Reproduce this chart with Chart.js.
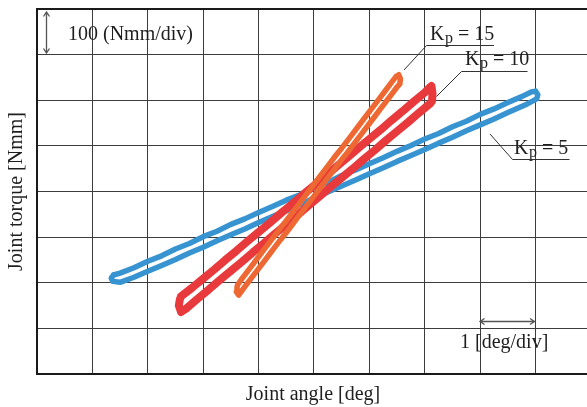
<!DOCTYPE html>
<html>
<head>
<meta charset="utf-8">
<script src="https://cdn.jsdelivr.net/npm/chart.js@4/dist/chart.umd.min.js"></script>
<style>
html,body{margin:0;padding:0;background:#fff;overflow:hidden}
canvas{display:block}
</style>
</head>
<body>
<canvas id="c" width="587" height="407"></canvas>
<script>
// ---- data (joint angle [deg] relative to centre, joint torque [Nmm]) ----
const gains = ['5', '10', '15'];

// Kp = 5 (blue) hysteresis loop
const blueX = [-3.62,-3.5,-3.25,-3.0,-2.75,-2.5,-2.25,-2.0,-1.75,-1.5,-1.25,-1.0,-0.75,-0.5,-0.25,0,0.25,0.5,0.75,1.0,1.25,1.5,1.75,2.0,2.25,2.5,2.75,3.0,3.25,3.5,3.75,3.92,4.0,4.04,4.02,
  3.85,3.5,3.25,3.0,2.75,2.5,2.25,2.0,1.75,1.5,1.25,1.0,0.75,0.5,0.25,0,-0.25,-0.5,-0.75,-1.0,-1.25,-1.5,-1.75,-2.0,-2.25,-2.5,-2.75,-3.0,-3.25,-3.5,-3.63,-3.66,-3.62];
const blueY = [-183,-179,-167,-153,-141,-126,-114,-99,-87,-72,-60,-46,-33,-19,-7,8,20,35,47,61,74,88,101,115,127,142,154,169,181,195,208,218,220,212,203,
  192,173,159,146,133,119,106,92,79,66,52,39,25,12,-1,-15,-28,-42,-55,-68,-82,-95,-108,-122,-135,-149,-162,-175,-188,-199,-197,-190,-183];

// Kp = 10 (red) hysteresis loop
const redX = [-2.4,-2.2,-2.0,-1.8,-1.6,-1.4,-1.2,-1.0,-0.8,-0.6,-0.4,-0.2,0,0.2,0.4,0.6,0.8,1.0,1.2,1.4,1.6,1.8,2.0,2.08,2.12,2.14,2.13,
  2.1,1.9,1.7,1.5,1.3,1.1,0.9,0.7,0.5,0.3,0.1,-0.1,-0.3,-0.5,-0.7,-0.9,-1.1,-1.3,-1.5,-1.7,-1.9,-2.1,-2.3,-2.4,-2.44,-2.42,-2.4];
const redY = [-230,-211,-191,-171,-150,-130,-109,-89,-69,-48,-28,-7,13,33,54,74,95,115,135,156,176,197,217,227,231,215,198,
  193,173,152,132,112,91,71,50,30,10,-11,-31,-52,-72,-92,-113,-133,-154,-174,-194,-215,-235,-256,-264,-250,-236,-230];

// Kp = 15 (orange) hysteresis loop
const orangeX = [-1.38,-1.3,-1.2,-1.1,-1.0,-0.9,-0.8,-0.7,-0.6,-0.5,-0.4,-0.3,-0.2,-0.1,0,0.1,0.2,0.3,0.4,0.5,0.6,0.7,0.8,0.9,1.0,1.1,1.2,1.3,1.4,1.48,1.53,1.56,1.55,
  1.5,1.4,1.3,1.2,1.1,1.0,0.9,0.8,0.7,0.6,0.5,0.4,0.3,0.2,0.1,0,-0.1,-0.2,-0.3,-0.4,-0.5,-0.6,-0.7,-0.8,-0.9,-1.0,-1.1,-1.2,-1.3,-1.36,-1.4,-1.39,-1.38];
const orangeY = [-205,-191,-175,-159,-143,-127,-111,-95,-79,-64,-48,-32,-16,0,16,32,48,64,80,95,111,127,143,159,175,191,207,223,239,252,256,247,236,
  229,213,197,181,165,149,133,117,101,85,70,54,38,22,6,-10,-26,-42,-58,-74,-90,-105,-121,-137,-153,-169,-185,-201,-217,-227,-220,-210,-205];

// axis ranges / divisions
const xMin = -5, xMax = 4.928, xStep = 1;      // 1 deg/div
const yMin = -400, yMax = 400, yStep = 100;     // 100 Nmm/div

const xTitle = 'Joint angle [deg]';
const yTitle = 'Joint torque [Nmm]';
const yScaleNote = '100 (Nmm/div)';
const xScaleNote = '1 [deg/div]';

// ---- build ----
const pts = (xs, ys) => xs.map((x, i) => ({x: x, y: ys[i]}));
const SERIF = '"Liberation Serif", "Times New Roman", serif';
const TXT = '#1e1e1e';

function arrow(ctx, x1, y1, x2, y2) {
  const a = Math.atan2(y2 - y1, x2 - x1), L = 4.5, W = 3;
  ctx.beginPath();
  ctx.moveTo(x1, y1); ctx.lineTo(x2, y2);
  const head = (x, y, ang) => {
    ctx.moveTo(x + L * Math.cos(ang) - W * Math.sin(ang), y + L * Math.sin(ang) + W * Math.cos(ang));
    ctx.lineTo(x, y);
    ctx.lineTo(x + L * Math.cos(ang) + W * Math.sin(ang), y + L * Math.sin(ang) - W * Math.cos(ang));
  };
  head(x1, y1, a);
  head(x2, y2, a + Math.PI);
  ctx.stroke();
}

function kpLabel(ctx, x, y, val) {
  ctx.textAlign = 'left';
  ctx.textBaseline = 'alphabetic';
  ctx.font = '20px ' + SERIF;
  ctx.fillText('K', x, y);
  const w1 = ctx.measureText('K').width;
  ctx.font = '16px ' + SERIF;
  ctx.fillText('p', x + w1 + 0.5, y + 3);
  const w2 = ctx.measureText('p').width;
  ctx.font = '20px ' + SERIF;
  ctx.fillText(' = ' + val, x + w1 + 0.5 + w2, y);
}

const annotations = {
  id: 'annotations',
  afterDraw(chart) {
    const ctx = chart.ctx;
    ctx.save();
    ctx.fillStyle = TXT;
    // axis titles
    ctx.font = '20px ' + SERIF;
    ctx.textAlign = 'center';
    ctx.textBaseline = 'alphabetic';
    ctx.fillText(xTitle, 313, 400);
    ctx.save();
    ctx.translate(22, 191.5);
    ctx.rotate(-Math.PI / 2);
    ctx.fillText(yTitle, 0, 0);
    ctx.restore();

    // scale notes
    ctx.strokeStyle = '#555';
    ctx.lineWidth = 1.3;
    arrow(ctx, 46.5, 12, 46.5, 53);
    arrow(ctx, 480, 321.5, 534.5, 321.5);
    ctx.textAlign = 'left';
    ctx.fillText(yScaleNote, 68, 39.5);
    ctx.fillText(xScaleNote, 460, 347.5);

    // Kp labels with leader lines
    kpLabel(ctx, 430, 39.5, gains[2]);
    kpLabel(ctx, 465, 65, gains[1]);
    kpLabel(ctx, 514, 153.5, gains[0]);
    ctx.strokeStyle = '#333';
    ctx.lineWidth = 1;
    ctx.beginPath();
    ctx.moveTo(494, 45.5); ctx.lineTo(426.5, 45.5); ctx.lineTo(404, 70);
    ctx.moveTo(527.5, 71.5); ctx.lineTo(461.5, 71.5); ctx.lineTo(436.5, 96.5);
    ctx.moveTo(569.5, 159.5); ctx.lineTo(512.5, 159.5); ctx.lineTo(490, 134);
    ctx.stroke();
    ctx.restore();
  }
};

const loopStyle = (color, width, order) => ({
  borderColor: color,
  backgroundColor: color,
  borderWidth: width,
  pointRadius: 0,
  showLine: true,
  fill: false,
  tension: 0,
  borderJoinStyle: 'round',
  borderCapStyle: 'round',
  order: order
});

new Chart(document.getElementById('c'), {
  type: 'scatter',
  data: {
    datasets: [
      Object.assign({label: 'Kp = ' + gains[0], data: pts(blueX, blueY)}, loopStyle('#3894d1', 5.5, 2)),
      Object.assign({label: 'Kp = ' + gains[1], data: pts(redX, redY)}, loopStyle('#e8393c', 8, 1)),
      Object.assign({label: 'Kp = ' + gains[2], data: pts(orangeX, orangeY)}, loopStyle('#ee6833', 5.5, 0))
    ]
  },
  options: {
    responsive: false,
    devicePixelRatio: 1,
    animation: false,
    layout: {padding: {left: 37, top: 9, right: 0, bottom: 33}},
    plugins: {legend: {display: false}, tooltip: {enabled: false}},
    scales: {
      x: {
        type: 'linear', min: xMin, max: xMax,
        ticks: {display: false, stepSize: xStep, includeBounds: false},
        grid: {color: '#3c3c3c', lineWidth: 1, drawTicks: false},
        border: {display: true, color: '#1a1a1a', width: 2},
        title: {display: false}
      },
      y: {
        type: 'linear', min: yMin, max: yMax,
        ticks: {display: false, stepSize: yStep},
        grid: {
          color: (c) => (c.tick && c.tick.value === yMax) ? '#1a1a1a' : '#3c3c3c',
          lineWidth: (c) => (c.tick && c.tick.value === yMax) ? 2 : 1,
          drawTicks: false
        },
        border: {display: true, color: '#1a1a1a', width: 2},
        title: {display: false}
      }
    }
  },
  plugins: [annotations]
});
</script>
</body>
</html>
